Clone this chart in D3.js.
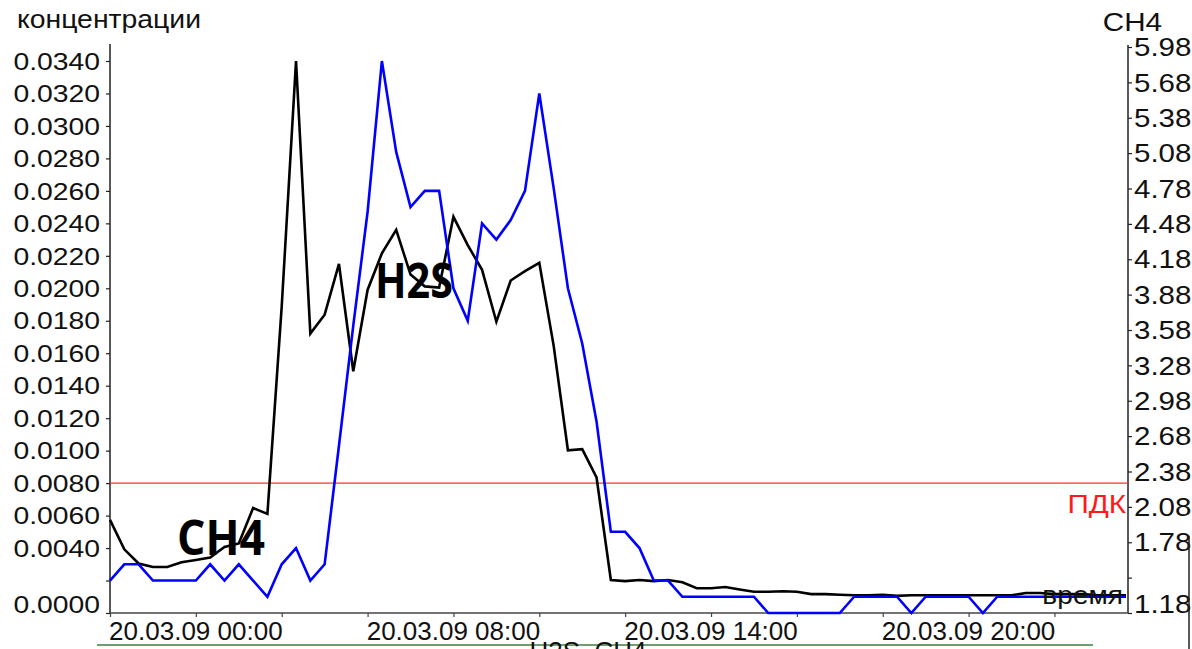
<!DOCTYPE html>
<html>
<head>
<meta charset="utf-8">
<script src="https://cdn.jsdelivr.net/npm/d3@7"></script>
<style>
  html, body { margin: 0; padding: 0; background: #fff; }
  svg { display: block; }
  text { font-family: "Liberation Sans", Arial, sans-serif; fill: #111; }
  .big { font-family: "Open Sans", "Noto Sans", sans-serif; font-weight: 700; }
</style>
</head>
<body>
<svg id="chart" width="1192" height="649"></svg>
<script>
// Hydrogen sulphide concentration, one reading per sample (left axis)
const h2s = [
  0.002, 0.003, 0.003, 0.002, 0.002, 0.002, 0.002, 0.003, 0.002, 0.003,
  0.002, 0.001, 0.003, 0.004, 0.002, 0.003, 0.0103, 0.0177, 0.0247, 0.034,
  0.0284, 0.025, 0.026, 0.026, 0.020, 0.018, 0.024, 0.023, 0.0242, 0.026,
  0.032, 0.0262, 0.020, 0.0166, 0.0118, 0.005, 0.005, 0.004, 0.002, 0.002,
  0.001, 0.001, 0.001, 0.001, 0.001, 0.001, 0, 0, 0, 0,
  0, 0, 0.001, 0.001, 0.001, 0.001, 0, 0.001, 0.001, 0.001,
  0.001, 0, 0.001, 0.001, 0.001, 0.001, 0.001, 0.001, 0.001, 0.001,
  0.001, 0.001
];

// Methane, same samples (right axis)
const ch4 = [
  1.97, 1.72, 1.60, 1.57, 1.57, 1.61, 1.63, 1.65, 1.74, 1.77,
  2.07, 2.02, 3.78, 5.86, 3.55, 3.71, 4.14, 3.23, 3.92, 4.23,
  4.43, 4.05, 3.95, 3.94, 4.54, 4.30, 4.09, 3.65, 4.00, 4.08,
  4.15, 3.45, 2.56, 2.57, 2.33, 1.46, 1.45, 1.46, 1.45, 1.46,
  1.44, 1.39, 1.39, 1.40, 1.38, 1.36, 1.36, 1.365, 1.36, 1.34,
  1.34, 1.335, 1.33, 1.33, 1.335, 1.325, 1.33, 1.33, 1.33, 1.33,
  1.33, 1.33, 1.33, 1.33, 1.35, 1.35, 1.34, 1.34, 1.34, 1.33,
  1.33, 1.33
];

// Limit value for H2S
const pdkValue = 0.008;

// Left axis ticks (the one next to zero is left unlabelled)
const h2sTicks = [0, 0.002, 0.004, 0.006, 0.008, 0.010, 0.012, 0.014, 0.016,
  0.018, 0.020, 0.022, 0.024, 0.026, 0.028, 0.030, 0.032, 0.034];
const h2sHidden = [0.002];

// Right axis ticks
const ch4Ticks = [1.18, 1.48, 1.78, 2.08, 2.38, 2.68, 2.98, 3.28, 3.58,
  3.88, 4.18, 4.48, 4.78, 5.08, 5.38, 5.68, 5.98];
const ch4Hidden = [1.48];

// Time axis: tick every 6 samples, labels on some of them
const timeTicks = [0, 6, 12, 18, 24, 30, 36, 42, 48, 54, 60, 66];
const timeLabelIdx = [6, 24, 42, 60];
const timeLabels = ["20.03.09 00:00", "20.03.09 08:00", "20.03.09 14:00", "20.03.09 20:00"];

const svg = d3.select("#chart");

const plotL = 110, plotR = 1128, plotB = 613, plotT = 44;

const x = d3.scaleLinear().domain([0, 71.14]).range([plotL, plotR]);
const yL = d3.scaleLinear().domain([0, 0.034]).range([plotB, 61]);
const yR = d3.scaleLinear().domain([1.18, 5.98]).range([plotB, 47]);

const SX_AXIS = 1.18;   // horizontal stretch of the axis lettering

// text placed at (px, py), stretched horizontally by sx
function label(px, py, str, size, sx, anchor) {
  return svg.append("text")
    .attr("transform", `translate(${px},${py}) scale(${sx},1)`)
    .attr("font-size", size)
    .attr("text-anchor", anchor || "start")
    .text(str);
}

// ---- left axis
const gL = svg.append("g").attr("transform", `translate(${plotL},0)`)
  .call(d3.axisLeft(yL).tickValues(h2sTicks).tickSize(4).tickPadding(0)
    .tickFormat(d => h2sHidden.includes(d) ? "" : d3.format(".4f")(d)));
gL.select(".domain").remove();
gL.append("line").attr("x1", 0).attr("x2", 0).attr("y1", plotT).attr("y2", plotB)
  .attr("stroke", "#222").attr("stroke-width", 1.5);
gL.selectAll(".tick line").attr("stroke", "#222").attr("stroke-width", 1.2);
gL.selectAll(".tick text")
  .attr("x", null).attr("dy", null)
  .attr("font-size", 24)
  .attr("text-anchor", "end")
  .attr("dominant-baseline", "central")
  .attr("transform", d => `translate(-10,${d === 0 ? -9 : 0}) scale(${SX_AXIS},1)`)
  .style("fill", "#111");

// ---- right axis
const gR = svg.append("g").attr("transform", `translate(${plotR},0)`)
  .call(d3.axisRight(yR).tickValues(ch4Ticks).tickSize(4).tickPadding(0)
    .tickFormat(d => ch4Hidden.includes(d) ? "" : d3.format(".2f")(d)));
gR.select(".domain").remove();
gR.append("line").attr("x1", 0).attr("x2", 0).attr("y1", plotT + 1).attr("y2", plotB)
  .attr("stroke", "#222").attr("stroke-width", 1.5);
gR.selectAll(".tick line").attr("stroke", "#222").attr("stroke-width", 1.2);
gR.selectAll(".tick text")
  .attr("x", null).attr("dy", null)
  .attr("font-size", 25)
  .attr("text-anchor", "start")
  .attr("dominant-baseline", "central")
  .attr("transform", d => `translate(6,${d === 1.18 ? -9 : 0}) scale(${SX_AXIS},1)`)
  .style("fill", "#111");

// ---- time axis
const gX = svg.append("g").attr("transform", `translate(0,${plotB})`)
  .call(d3.axisBottom(x).tickValues(timeTicks).tickSize(4).tickFormat(""));
gX.select(".domain").remove();
gX.append("line").attr("x1", plotL).attr("x2", plotR).attr("y1", 0).attr("y2", 0)
  .attr("stroke", "#444").attr("stroke-width", 1.5);
gX.selectAll(".tick line").attr("stroke", "#444").attr("stroke-width", 1.2);
gX.selectAll(".timelabel").data(timeLabelIdx).join("text")
  .attr("class", "timelabel")
  .attr("x", d => x(d)).attr("y", 27)
  .attr("text-anchor", "middle")
  .attr("font-size", 26)
  .text((d, i) => timeLabels[i]);

// ---- limit line
svg.append("line")
  .attr("x1", plotL).attr("x2", plotR)
  .attr("y1", yL(pdkValue)).attr("y2", yL(pdkValue))
  .attr("stroke", "#ff3030").attr("stroke-width", 1.3);
label(plotR - 2, yL(pdkValue) + 30, "ПДК", 26, 1.14, "end").style("fill", "#ff1a1a");

// ---- series
const lineCH4 = d3.line().x((d, i) => x(i)).y(d => yR(d));
const lineH2S = d3.line().x((d, i) => x(i)).y(d => yL(d));

svg.append("path").datum(ch4).attr("d", lineCH4)
  .attr("fill", "none").attr("stroke", "#000").attr("stroke-width", 2.6)
  .attr("stroke-linejoin", "miter");
svg.append("path").datum(h2s).attr("d", lineH2S)
  .attr("fill", "none").attr("stroke", "#0000ff").attr("stroke-width", 2.6)
  .attr("stroke-linejoin", "miter");

// ---- titles and annotations
label(17, 28, "концентрации", 25, 1.135);
label(1162, 31, "CH4", 26, 1.14, "end");
label(1123, 604, "время", 26, 1.08, "end");

svg.append("text").attr("class", "big").attr("x", 177).attr("y", 555)
  .attr("font-size", 48).attr("textLength", 88).attr("lengthAdjust", "spacingAndGlyphs")
  .style("fill", "#000").text("CH4");
svg.append("text").attr("class", "big").attr("x", 375).attr("y", 298)
  .attr("font-size", 48).attr("textLength", 78).attr("lengthAdjust", "spacingAndGlyphs")
  .style("fill", "#000").text("H2S");

// ---- lower frame pieces
svg.append("line").attr("x1", 97).attr("x2", 1093).attr("y1", 645).attr("y2", 645)
  .attr("stroke", "#6f9e6f").attr("stroke-width", 2);
svg.append("text").attr("x", 588).attr("y", 660).attr("font-size", 26)
  .attr("text-anchor", "middle").text("H2S, CH4");
svg.append("line").attr("x1", 1189).attr("x2", 1189).attr("y1", 536).attr("y2", 649)
  .attr("stroke", "#222").attr("stroke-width", 1.5);
</script>
</body>
</html>
